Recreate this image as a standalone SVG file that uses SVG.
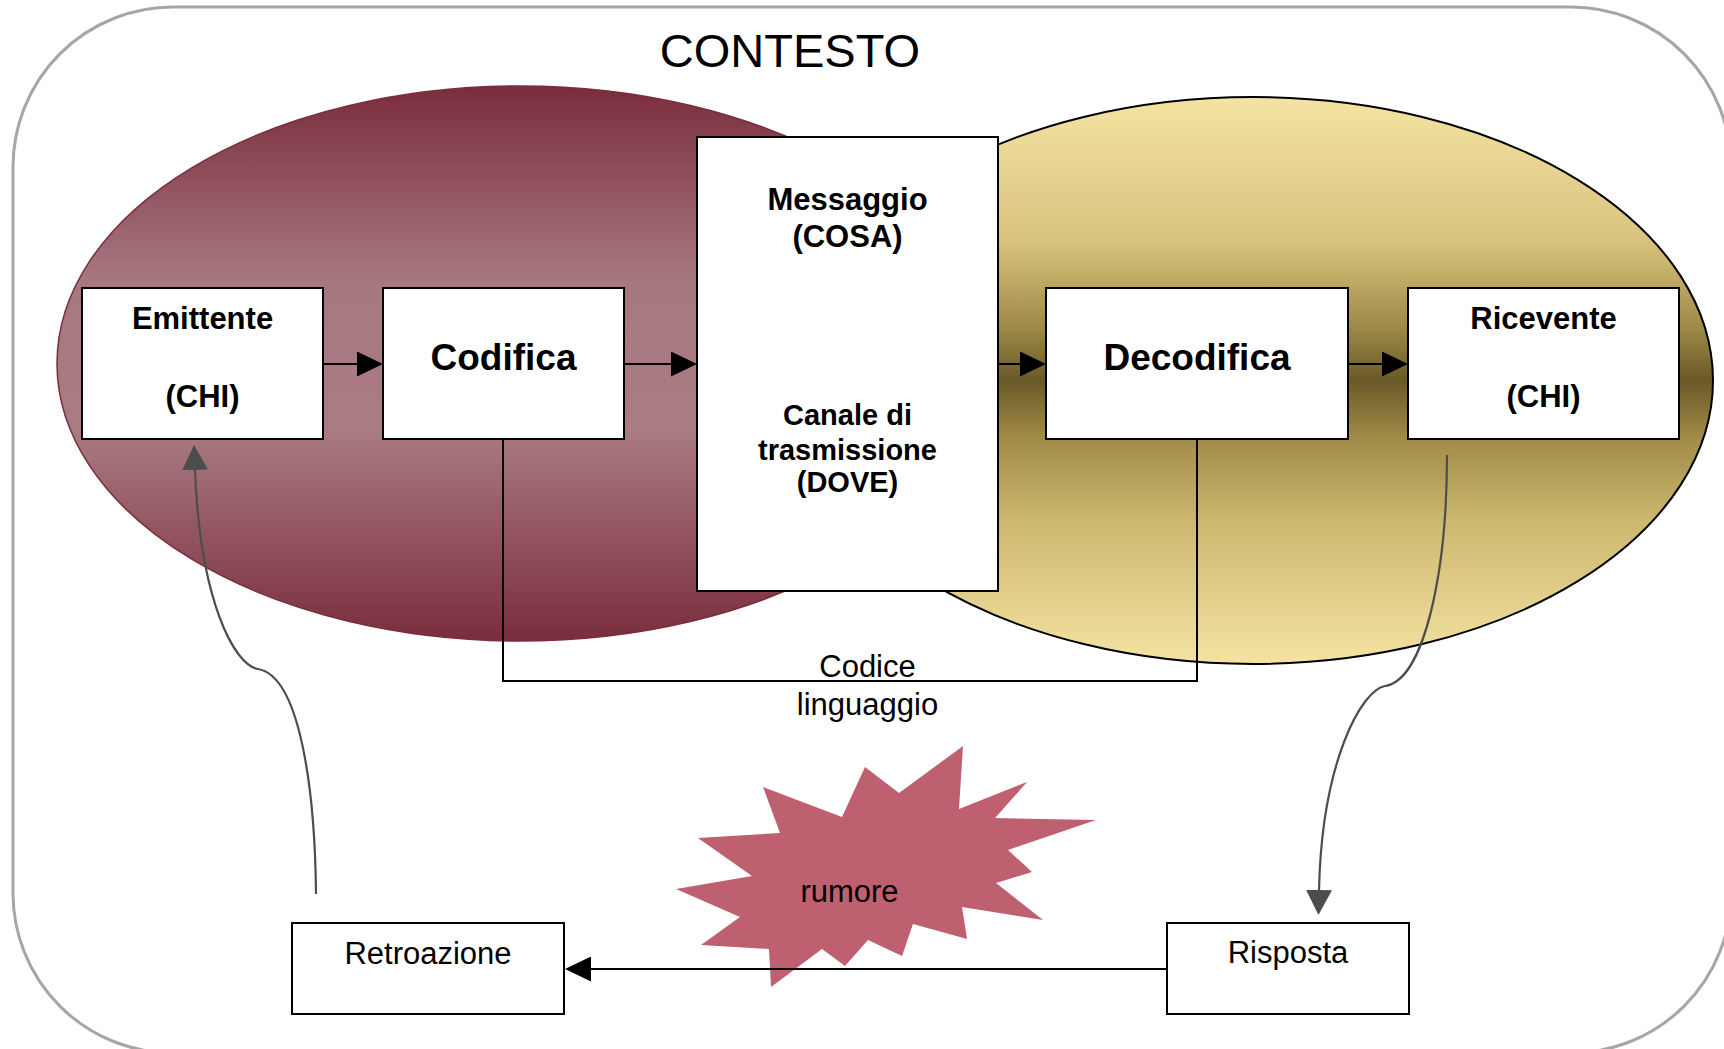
<svg xmlns="http://www.w3.org/2000/svg" width="1724" height="1049" viewBox="0 0 1724 1049">
<defs>
<style>
.box{fill:#fff;stroke:#000;stroke-width:2}
.bt{font-family:"Liberation Sans",Arial,sans-serif;font-weight:bold;text-anchor:middle;fill:#000}
.rt{font-family:"Liberation Sans",Arial,sans-serif;text-anchor:middle;fill:#000}
.ln{fill:none;stroke:#000;stroke-width:2}
.gl{fill:none;stroke:#4d4d4d;stroke-width:2.2}
</style>
<linearGradient id="gRed" x1="0" y1="0" x2="0" y2="1">
<stop offset="0" stop-color="#7a2d3c"/>
<stop offset="0.35" stop-color="#a77880"/>
<stop offset="0.62" stop-color="#aa7b82"/>
<stop offset="1" stop-color="#7a2d3c"/>
</linearGradient>
<linearGradient id="gYel" x1="0" y1="0" x2="0" y2="1">
<stop offset="0" stop-color="#f4e3a2"/>
<stop offset="0.25" stop-color="#d9c47f"/>
<stop offset="0.4" stop-color="#a18d4a"/>
<stop offset="0.5" stop-color="#6a5928"/>
<stop offset="0.6" stop-color="#a08b48"/>
<stop offset="0.75" stop-color="#cdb86f"/>
<stop offset="1" stop-color="#f4e3a2"/>
</linearGradient>
<marker id="ah" viewBox="0 0 26 25" refX="0" refY="12.5" markerWidth="26" markerHeight="25" markerUnits="userSpaceOnUse" orient="auto">
<path d="M0,0 L26,12.5 L0,25 z" fill="#000"/>
</marker>
<marker id="ahg" viewBox="0 0 26 26" refX="0" refY="13" markerWidth="26" markerHeight="26" markerUnits="userSpaceOnUse" orient="auto">
<path d="M0,0 L25,13 L0,26 z" fill="#4d4d4d"/>
</marker>
</defs>
<rect width="1724" height="1049" fill="#fff"/>
<g id="contesto">
<rect x="13" y="7" width="1718" height="1046" rx="160" ry="160" fill="none" stroke="#a6a6a6" stroke-width="3"/>
<text class="rt" x="790" y="67" font-size="47">CONTESTO</text>
</g>
<g id="area-ricevente">
<ellipse cx="1253" cy="380.5" rx="460" ry="283.5" fill="url(#gYel)" stroke="#000" stroke-width="2"/>
</g>
<g id="area-emittente">
<ellipse cx="520" cy="363.5" rx="463" ry="277.5" fill="url(#gRed)" stroke="#7a2d3c" stroke-width="1.5"/>
</g>
<g id="rumore">
<polygon points="963,746 959,809 1027,782 995,818 1096,820 1008,850 1032,872 996,883 1043,920 962,907 967,939 913,924 902,956 868,940 845,966 822,949 771,987 769,949 701,945 740,917 676,889 752,876 698,838 780,833 763,787 842,817 865,767 899,793" fill="#bf6070"/>
<text class="rt" x="849.5" y="902" font-size="31" fill="#111">rumore</text>
</g>
<g id="connettori">
<line class="ln" x1="323" y1="364" x2="357" y2="364" marker-end="url(#ah)"/>
<line class="ln" x1="624" y1="364" x2="671" y2="364" marker-end="url(#ah)"/>
<line class="ln" x1="998" y1="364" x2="1020" y2="364" marker-end="url(#ah)"/>
<line class="ln" x1="1348" y1="364" x2="1382" y2="364" marker-end="url(#ah)"/>
<polyline class="ln" points="503,439 503,681 1197,681 1197,439" stroke-width="1.8"/>
<line class="ln" x1="1167" y1="969" x2="591" y2="969" marker-end="url(#ah)"/>
<path class="gl" d="M1447,455 C1447,570 1425,680 1385,686 C1362,690 1322,760 1319,890" marker-end="url(#ahg)"/>
<path class="gl" d="M316,894 C315,790 300,676 258,669 C234,665 200,600 195,470" marker-end="url(#ahg)"/>
</g>
<g id="codice">
<text class="rt" x="867.5" y="677" font-size="31">Codice</text>
<text class="rt" x="867.5" y="715" font-size="31">linguaggio</text>
</g>
<g id="emittente">
<rect class="box" x="82" y="288" width="241" height="151"/>
<text class="bt" x="202.5" y="329" font-size="31">Emittente</text>
<text class="bt" x="202.5" y="407" font-size="31">(CHI)</text>
</g>
<g id="codifica">
<rect class="box" x="383" y="288" width="241" height="151"/>
<text class="bt" x="503.5" y="370" font-size="37">Codifica</text>
</g>
<g id="messaggio">
<rect class="box" x="697" y="137" width="301" height="454"/>
<text class="bt" x="847.5" y="210" font-size="31">Messaggio</text>
<text class="bt" x="847.5" y="247" font-size="31">(COSA)</text>
<text class="bt" x="847.5" y="425" font-size="29">Canale di</text>
<text class="bt" x="847.5" y="460" font-size="29">trasmissione</text>
<text class="bt" x="847.5" y="492" font-size="29">(DOVE)</text>
</g>
<g id="decodifica">
<rect class="box" x="1046" y="288" width="302" height="151"/>
<text class="bt" x="1197" y="370" font-size="37">Decodifica</text>
</g>
<g id="ricevente">
<rect class="box" x="1408" y="288" width="271" height="151"/>
<text class="bt" x="1543.5" y="329" font-size="31">Ricevente</text>
<text class="bt" x="1543.5" y="407" font-size="31">(CHI)</text>
</g>
<g id="retroazione">
<rect class="box" x="292" y="923" width="272" height="91"/>
<text class="rt" x="428" y="964" font-size="31">Retroazione</text>
</g>
<g id="risposta">
<rect class="box" x="1167" y="923" width="242" height="91"/>
<text class="rt" x="1288" y="963" font-size="31">Risposta</text>
</g>
</svg>
